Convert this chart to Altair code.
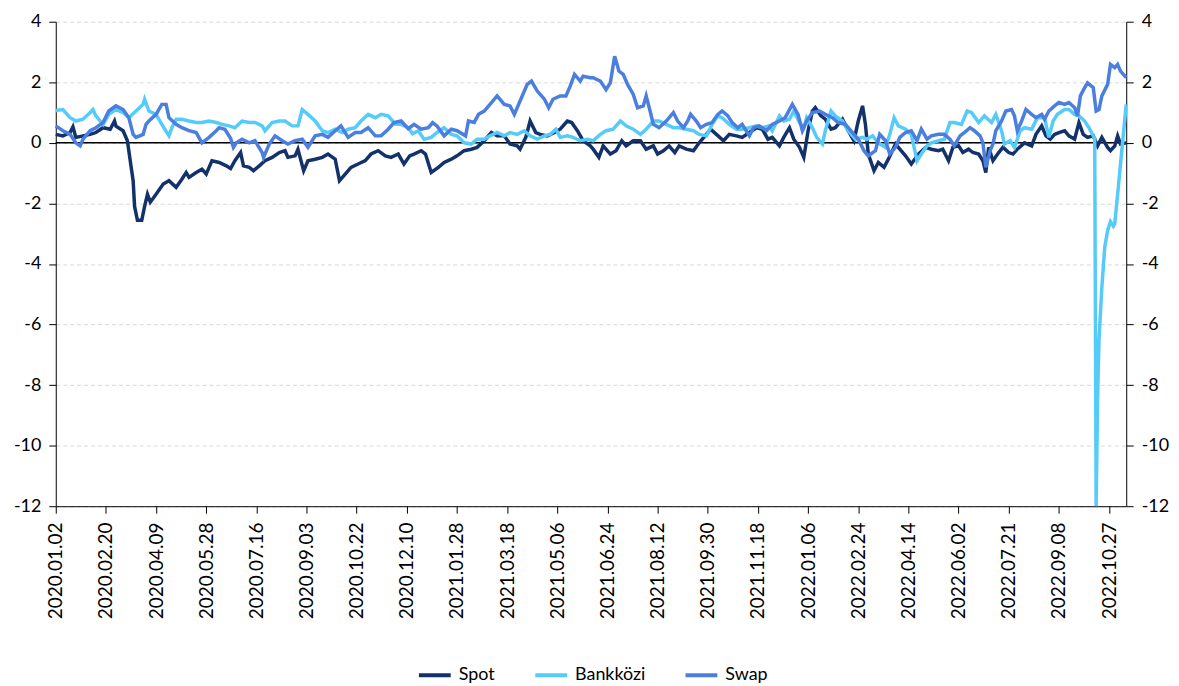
import json
import altair as alt
import pandas as pd

# x positions are business-day indices counted from 2020.01.02 (one label every 35 business days)
tick_labels = [
    "2020.01.02", "2020.02.20", "2020.04.09", "2020.05.28", "2020.07.16", "2020.09.03",
    "2020.10.22", "2020.12.10", "2021.01.28", "2021.03.18", "2021.05.06", "2021.06.24",
    "2021.08.12", "2021.09.30", "2021.11.18", "2022.01.06", "2022.02.24", "2022.04.14",
    "2022.06.02", "2022.07.21", "2022.09.08", "2022.10.27",
]

spot = [
    (0, 0.28), (5, 0.23), (10, 0.34), (12, 0.53), (14, 0.18), (19, 0.23), (24, 0.28), (28, 0.34),
    (33, 0.5), (38, 0.45), (41, 0.72), (42, 0.55), (47, 0.4), (50, 0.07), (52, -0.6), (54, -1.25),
    (55, -2.1), (57, -2.56), (60, -2.56), (62, -2.1), (64, -1.7), (66, -1.96), (70, -1.7), (75, -1.36),
    (79, -1.25), (84, -1.47), (88, -1.2), (91, -0.98), (93, -1.14), (98, -0.98), (102, -0.87), (105, -1.03),
    (107, -0.81), (109, -0.59), (114, -0.65), (119, -0.76), (122, -0.85), (125, -0.59), (129, -0.32), (131, -0.76),
    (135, -0.81), (138, -0.92), (142, -0.76), (146, -0.59), (151, -0.48), (156, -0.32), (160, -0.26), (162, -0.48),
    (167, -0.43), (169, -0.21), (173, -0.92), (176, -0.59), (181, -0.54), (186, -0.48), (190, -0.37), (195, -0.54),
    (198, -1.25), (202, -1.03), (206, -0.81), (211, -0.7), (216, -0.59), (220, -0.37), (225, -0.26), (230, -0.43),
    (234, -0.48), (239, -0.37), (243, -0.7), (247, -0.43), (250, -0.37), (255, -0.26), (258, -0.37), (262, -0.98),
    (267, -0.81), (271, -0.65), (276, -0.54), (280, -0.43), (285, -0.26), (290, -0.21), (294, -0.15), (299, 0.07),
    (304, 0.34), (308, 0.23), (313, 0.23), (317, -0.04), (322, -0.1), (324, -0.21), (328, 0.18), (331, 0.72),
    (335, 0.34), (338, 0.28), (343, 0.23), (348, 0.34), (352, 0.45), (357, 0.72), (360, 0.67), (364, 0.4),
    (368, 0.07), (373, -0.1), (375, -0.21), (379, -0.48), (382, -0.1), (387, -0.37), (391, -0.26), (395, 0.07),
    (398, -0.1), (403, 0.07), (408, 0.07), (412, -0.21), (417, -0.1), (420, -0.37), (424, -0.26), (428, -0.1),
    (432, -0.32), (435, -0.1), (440, -0.21), (445, -0.26), (449, 0.0), (454, 0.28), (457, 0.45), (461, 0.28),
    (466, 0.07), (470, 0.28), (475, 0.23), (479, 0.18), (484, 0.34), (489, 0.5), (493, 0.45), (497, 0.12),
    (500, 0.18), (505, -0.1), (508, 0.18), (512, 0.5), (515, 0.12), (519, -0.15), (522, -0.48), (525, 0.4),
    (528, 1.05), (530, 1.16), (534, 0.89), (537, 0.78), (541, 0.45), (544, 0.5), (549, 0.78), (553, 0.4),
    (557, 0.07), (560, 0.72), (563, 1.22), (565, 0.61), (567, -0.37), (571, -0.92), (574, -0.65), (578, -0.81),
    (581, -0.54), (586, -0.04), (589, -0.21), (593, -0.43), (597, -0.7), (602, -0.37), (607, -0.15), (611, -0.21),
    (616, -0.26), (619, -0.21), (623, -0.59), (626, -0.15), (630, -0.1), (633, -0.32), (637, -0.21), (640, -0.32),
    (644, -0.37), (647, -0.59), (649, -0.98), (651, -0.15), (654, -0.59), (658, -0.32), (661, -0.15), (665, -0.32),
    (668, -0.37), (671, -0.21), (676, 0.0), (681, -0.1), (684, 0.28), (688, 0.56), (691, 0.23), (694, 0.12),
    (697, 0.28), (700, 0.34), (704, 0.4), (707, 0.23), (711, 0.12), (714, 0.67), (717, 0.28), (720, 0.18),
    (724, 0.23), (727, -0.1), (730, 0.18), (734, -0.15), (736, -0.26), (739, -0.1), (741, 0.23), (743, -0.04),
    (747, 0.0),
]

bankkozi = [
    (0, 1.07), (5, 1.1), (10, 0.83), (14, 0.72), (19, 0.78), (24, 1.0), (26, 1.1), (28, 0.89),
    (33, 0.61), (37, 0.94), (42, 1.1), (47, 1.0), (51, 0.83), (56, 1.05), (61, 1.27), (62, 1.44),
    (65, 1.05), (70, 0.94), (74, 0.61), (79, 0.23), (81, 0.5), (84, 0.78), (88, 0.78), (93, 0.72),
    (98, 0.67), (102, 0.67), (107, 0.72), (112, 0.67), (116, 0.61), (121, 0.56), (125, 0.5), (130, 0.72),
    (135, 0.67), (139, 0.67), (144, 0.56), (146, 0.4), (151, 0.67), (156, 0.72), (160, 0.72), (165, 0.56),
    (169, 0.56), (172, 1.1), (176, 0.94), (181, 0.72), (186, 0.4), (190, 0.34), (195, 0.45), (200, 0.34),
    (204, 0.45), (209, 0.5), (213, 0.72), (218, 0.94), (223, 0.83), (227, 0.94), (232, 0.89), (237, 0.61),
    (241, 0.61), (246, 0.5), (249, 0.3), (253, 0.4), (257, 0.12), (262, 0.18), (266, 0.34), (271, 0.5),
    (276, 0.28), (280, 0.23), (285, 0.0), (290, -0.04), (294, 0.12), (299, 0.12), (303, 0.23), (308, 0.34),
    (313, 0.23), (317, 0.34), (322, 0.28), (327, 0.4), (331, 0.23), (336, 0.12), (341, 0.23), (345, 0.28),
    (349, 0.45), (352, 0.18), (357, 0.23), (361, 0.18), (366, 0.07), (371, 0.12), (375, 0.07), (380, 0.28),
    (384, 0.4), (389, 0.45), (394, 0.72), (398, 0.56), (403, 0.45), (408, 0.28), (412, 0.45), (417, 0.72),
    (421, 0.72), (426, 0.61), (431, 0.5), (435, 0.5), (440, 0.45), (445, 0.4), (449, 0.28), (454, 0.23),
    (458, 0.61), (462, 0.89), (465, 0.83), (470, 0.61), (475, 0.45), (479, 0.45), (484, 0.5), (489, 0.56),
    (493, 0.5), (498, 0.56), (500, 0.4), (505, 0.89), (508, 0.72), (512, 0.78), (515, 1.05), (519, 0.67),
    (522, 0.5), (524, 0.83), (528, 0.5), (531, 0.18), (535, -0.04), (537, 0.4), (541, 1.05), (544, 0.89),
    (549, 0.72), (553, 0.4), (558, 0.12), (563, 0.18), (566, 0.12), (570, 0.23), (574, 0.0), (579, -0.15),
    (582, 0.28), (585, 0.83), (588, 0.56), (593, 0.45), (597, 0.28), (601, -0.59), (604, -0.37), (608, -0.1),
    (611, 0.0), (616, 0.07), (620, 0.12), (624, 0.67), (627, 0.67), (632, 0.61), (636, 1.05), (639, 1.0),
    (644, 0.67), (648, 0.89), (653, 0.67), (656, 0.94), (660, 0.4), (662, -0.04), (666, 0.07), (669, -0.15),
    (673, 0.4), (676, 0.5), (681, 0.45), (685, 0.83), (690, 0.83), (693, 0.18), (696, 0.72), (699, 0.94),
    (704, 1.1), (707, 1.1), (711, 0.94), (714, 0.89), (718, 0.72), (721, 0.5), (724, 0.23), (725, 0.15),
    (726, -12.0), (727, -8.5), (728, -6.5), (730, -4.76), (732, -3.45), (734, -2.9), (736, -2.6), (738, -2.75),
    (739, -2.67), (741, -1.7), (743, -0.7), (745, 0.28), (747, 1.27),
]

swap = [
    (0, 0.56), (5, 0.4), (10, 0.28), (14, 0.0), (17, -0.1), (19, 0.12), (24, 0.4), (28, 0.5),
    (33, 0.67), (37, 1.05), (42, 1.22), (47, 1.1), (51, 0.83), (54, 0.28), (56, 0.18), (61, 0.28),
    (63, 0.61), (65, 0.72), (70, 0.94), (74, 1.27), (77, 1.27), (79, 0.83), (84, 0.61), (88, 0.5),
    (93, 0.4), (98, 0.34), (102, 0.0), (107, 0.18), (112, 0.4), (114, 0.5), (118, 0.45), (122, 0.15),
    (124, -0.15), (126, 0.0), (130, 0.12), (135, 0.0), (139, 0.07), (144, -0.32), (145, -0.48), (149, -0.04),
    (153, 0.23), (158, 0.07), (162, -0.04), (167, 0.07), (172, 0.12), (176, -0.15), (181, 0.23), (186, 0.28),
    (190, 0.18), (195, 0.4), (199, 0.56), (204, 0.18), (209, 0.34), (213, 0.34), (218, 0.5), (223, 0.23),
    (227, 0.23), (232, 0.45), (236, 0.67), (241, 0.72), (246, 0.47), (250, 0.61), (255, 0.45), (260, 0.5),
    (263, 0.67), (266, 0.56), (271, 0.23), (276, 0.45), (280, 0.4), (286, 0.23), (288, 0.72), (292, 0.67),
    (295, 0.94), (299, 1.05), (303, 1.27), (308, 1.55), (313, 1.27), (317, 1.22), (320, 0.94), (324, 1.38),
    (329, 1.93), (332, 2.04), (336, 1.71), (341, 1.44), (344, 1.16), (347, 1.44), (352, 1.55), (356, 1.55),
    (359, 1.87), (362, 2.26), (366, 2.04), (368, 2.2), (373, 2.15), (375, 2.15), (380, 2.04), (384, 1.76),
    (387, 1.98), (390, 2.86), (393, 2.37), (396, 2.26), (399, 1.93), (403, 1.6), (406, 1.16), (410, 1.22),
    (412, 1.55), (415, 1.0), (417, 0.61), (421, 0.5), (426, 0.72), (431, 1.0), (434, 0.72), (438, 0.5),
    (441, 0.72), (443, 0.94), (447, 0.72), (450, 0.5), (454, 0.61), (458, 0.67), (462, 0.94), (465, 1.05),
    (469, 0.89), (472, 0.67), (476, 0.5), (479, 0.61), (484, 0.23), (487, 0.5), (491, 0.56), (496, 0.4),
    (500, 0.61), (505, 0.72), (509, 0.83), (514, 1.27), (518, 0.94), (521, 0.4), (524, 0.72), (528, 1.0),
    (533, 1.05), (537, 0.94), (542, 0.83), (546, 0.67), (551, 0.61), (556, 0.34), (560, 0.12), (564, -0.26),
    (567, -0.43), (572, -0.26), (575, 0.28), (579, 0.07), (582, -0.37), (586, -0.15), (589, 0.18), (593, 0.34),
    (597, 0.4), (601, 0.07), (604, 0.45), (608, 0.12), (611, 0.23), (616, 0.28), (620, 0.28), (624, 0.12),
    (627, -0.1), (631, 0.23), (634, 0.34), (638, 0.5), (641, 0.4), (645, 0.23), (647, 0.0), (649, -0.81),
    (652, -0.26), (654, -0.04), (656, 0.4), (660, 0.72), (663, 1.05), (667, 1.1), (669, 0.89), (671, 0.4),
    (674, 0.72), (677, 1.1), (681, 0.94), (684, 0.83), (688, 0.94), (690, 0.78), (693, 1.05), (697, 1.22),
    (700, 1.33), (704, 1.27), (707, 1.33), (711, 1.16), (713, 0.89), (715, 1.55), (718, 1.82), (720, 1.98),
    (724, 1.82), (726, 1.05), (728, 1.1), (730, 1.55), (734, 1.93), (736, 2.59), (739, 2.48), (741, 2.59),
    (743, 2.37), (747, 2.15),
]

series_names = ["Spot", "Bankközi", "Swap"]
series_colors = ["#13316B", "#55CBFA", "#4A7EDF"]
y_ticks = [-12, -10, -8, -6, -4, -2, 0, 2, 4]

FONT = "Lato"


def frame(name, pairs):
    return pd.DataFrame({"i": [p[0] for p in pairs], "v": [p[1] for p in pairs], "series": name})


x_scale = alt.Scale(domain=[0, 747], nice=False, zero=False)
y_scale = alt.Scale(domain=[-12, 4], nice=False, zero=False)
label_expr = json.dumps(tick_labels) + "[round(datum.value / 35)]"

x_axis = alt.Axis(
    values=[k * 35 for k in range(len(tick_labels))], labelExpr=label_expr, labelAngle=-90,
    labelAlign="right", labelBaseline="middle", grid=False, domainColor="black", domainWidth=1,
    tickColor="black", tickSize=7, tickWidth=1, labelPadding=9, labelFontSize=19, labelFont=FONT,
    labelColor="black", labelOverlap=False, labelBound=False, title=None,
)
y_axis_left = alt.Axis(
    orient="left", values=y_ticks, labelExpr="'' + datum.value", grid=True, gridColor="#d9d9d9",
    gridDash=[4, 3], gridWidth=1, domainColor="black", domainWidth=1, tickColor="black", tickSize=7,
    labelPadding=8, labelFontSize=18, labelFont=FONT, labelColor="black", labelOverlap=False, title=None,
)
y_axis_right = alt.Axis(
    orient="right", values=y_ticks, labelExpr="'' + datum.value", grid=False, domainColor="black",
    domainWidth=1, tickColor="black", tickSize=7, labelPadding=8, labelFontSize=18, labelFont=FONT,
    labelColor="black", labelOverlap=False, title=None,
)

color = alt.Color(
    "series:N",
    scale=alt.Scale(domain=series_names, range=series_colors),
    legend=alt.Legend(
        title=None, orient="none", legendX=363, legendY=639, direction="horizontal",
        symbolType="stroke", symbolSize=1024, symbolStrokeWidth=4, labelFontSize=18, labelFont=FONT,
        labelColor="black", columnPadding=32, labelOffset=6, padding=0,
    ),
)


def line(name, pairs):
    return alt.Chart(frame(name, pairs)).mark_line(strokeWidth=3.5).encode(
        x=alt.X("i:Q", scale=x_scale, axis=x_axis),
        y=alt.Y("v:Q", scale=y_scale, axis=y_axis_left),
        color=color,
    )


lines = alt.layer(line("Spot", spot), line("Bankközi", bankkozi), line("Swap", swap))

zero = alt.Chart(pd.DataFrame({"z": [0]})).mark_rule(color="black", strokeWidth=1.5).encode(
    y=alt.Y("z:Q", scale=y_scale, axis=y_axis_right)
)

chart = (
    alt.layer(zero, lines)
    .resolve_scale(y="independent")
    .properties(
        width=1076, height=487,
        autosize=alt.AutoSizeParams(type="none"),
        padding={"left": 48, "top": 12, "right": 45, "bottom": 190},
    )
    .configure(font=FONT)
    .configure_view(stroke=None)
)

chart.save("out.html", embed_options={"renderer": "svg", "actions": False})
